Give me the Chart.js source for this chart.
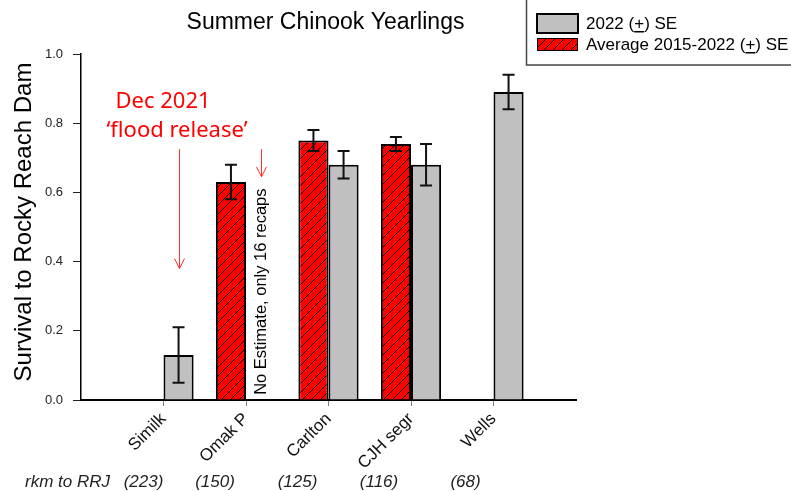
<!DOCTYPE html>
<html>
<head>
<meta charset="utf-8">
<script src="https://cdn.jsdelivr.net/npm/chart.js@4.4.1/dist/chart.umd.min.js"></script>
<style>
  html, body { margin: 0; padding: 0; background: #fff; }
  #wrap { position: relative; width: 791px; height: 491px; }
</style>
</head>
<body>
<div id="wrap"><canvas id="chart" width="791" height="491"></canvas></div>
<script>
// ---- data ----
const sites    = ['', 'Similk', 'Omak P', 'Carlton', 'CJH segr', 'Wells', ''];
const rkm      = ['(223)', '(150)', '(125)', '(116)', '(68)'];
const avgSurv  = [null, null, 0.63, 0.75, 0.74, null, null];
const avgSE    = [null, null, 0.05, 0.03, 0.02, null, null];
const surv2022 = [null, 0.13, null, 0.68, 0.68, 0.89, null];
const se2022   = [null, 0.08, null, 0.04, 0.06, 0.05, null];
const yTicks   = [0, 0.2, 0.4, 0.6, 0.8, 1.0];

const FONT = "'Liberation Sans', Arial, sans-serif";
Chart.defaults.font.family = FONT;

const canvas = document.getElementById('chart');
const ctx0 = canvas.getContext('2d');

// red fill with black diagonal hatch
function makeHatch() {
  const n = 9;
  const c = document.createElement('canvas');
  c.width = n; c.height = n;
  const g = c.getContext('2d');
  g.fillStyle = '#ff0000';
  g.fillRect(0, 0, n, n);
  g.strokeStyle = '#000';
  g.lineWidth = 1;
  g.beginPath();
  g.moveTo(0, n); g.lineTo(n, 0);
  g.moveTo(-1, 1); g.lineTo(1, -1);
  g.moveTo(n - 1, n + 1); g.lineTo(n + 1, n - 1);
  g.stroke();
  return ctx0.createPattern(c, 'repeat');
}
const hatch = makeHatch();

function errBars(chart, di, vals, ses) {
  const { ctx, scales: { y } } = chart;
  const meta = chart.getDatasetMeta(di);
  vals.forEach((v, i) => {
    if (v == null) return;
    const bx = meta.data[i].x;
    const hi = y.getPixelForValue(v + ses[i]);
    const lo = y.getPixelForValue(v - ses[i]);
    ctx.save();
    ctx.strokeStyle = '#111';
    ctx.lineWidth = 2;
    ctx.beginPath();
    ctx.moveTo(bx, hi); ctx.lineTo(bx, lo);
    ctx.moveTo(bx - 6, hi); ctx.lineTo(bx + 6, hi);
    ctx.moveTo(bx - 6, lo); ctx.lineTo(bx + 6, lo);
    ctx.stroke();
    ctx.restore();
  });
}

function arrow(ctx, x, y1, y2) {
  ctx.beginPath();
  ctx.moveTo(x, y1); ctx.lineTo(x, y2);
  ctx.moveTo(x - 5, y2 - 10); ctx.lineTo(x, y2); ctx.lineTo(x + 5, y2 - 10);
  ctx.stroke();
}

// text with an underlined "+" in the middle
function plusText(ctx, x, yb, before, after) {
  ctx.fillText(before, x, yb);
  let w = ctx.measureText(before).width;
  ctx.fillText('+', x + w, yb);
  const pw = ctx.measureText('+').width;
  ctx.fillRect(x + w, yb + 2, pw, 1.5);
  ctx.fillText(after, x + w + pw, yb);
}

const extras = {
  id: 'extras',
  afterDatasetsDraw(chart) {
    const { ctx, chartArea: ca, scales: { x, y } } = chart;
    errBars(chart, 0, avgSurv, avgSE);
    errBars(chart, 1, surv2022, se2022);

    const gray = chart.getDatasetMeta(1);

    // title
    ctx.save();
    ctx.fillStyle = '#000';
    ctx.font = '23px ' + FONT;
    ctx.textAlign = 'center';
    ctx.textBaseline = 'alphabetic';
    ctx.fillText('Summer Chinook Yearlings', (ca.left + ca.right) / 2 - 3, 29);

    // y title
    ctx.translate(31, (ca.top + ca.bottom) / 2 - 5);
    ctx.rotate(-Math.PI / 2);
    ctx.font = '24px ' + FONT;
    ctx.fillText('Survival to Rocky Reach Dam', 0, 0);
    ctx.restore();

    // flood release note + arrows
    ctx.save();
    ctx.fillStyle = '#ff0000';
    ctx.font = "22px 'Noto Sans', " + FONT;
    ctx.textAlign = 'left';
    const sx = x.getPixelForValue(1);
    ctx.fillText('Dec 2021', sx - 48, 108);
    ctx.fillText('\u2018flood release\u2019', sx - 57, 137);
    ctx.strokeStyle = '#ff3030';
    ctx.lineWidth = 1;
    arrow(ctx, Math.round(gray.data[1].x) + 0.5, y.getPixelForValue(0.725), y.getPixelForValue(0.38));
    arrow(ctx, Math.round(gray.data[2].x) + 0.5, y.getPixelForValue(0.725), y.getPixelForValue(0.645));
    ctx.restore();

    // no estimate note
    ctx.save();
    ctx.fillStyle = '#000';
    ctx.font = '16.5px ' + FONT;
    ctx.translate(gray.data[2].x, y.getPixelForValue(0.015));
    ctx.rotate(-Math.PI / 2);
    ctx.textAlign = 'left';
    ctx.textBaseline = 'middle';
    ctx.fillText('No Estimate, only 16 recaps', 0, 0);
    ctx.restore();

    // rkm row
    ctx.save();
    ctx.fillStyle = '#222';
    ctx.font = 'italic 17px ' + FONT;
    ctx.textAlign = 'left';
    ctx.fillText('rkm to RRJ', 25, 487);
    ctx.textAlign = 'center';
    const shift = [-20, -31, -31, -32, -28];
    rkm.forEach((t, k) => ctx.fillText(t, x.getPixelForValue(k + 1) + shift[k], 487));
    ctx.restore();

    // legend
    ctx.save();
    ctx.strokeStyle = '#444';
    ctx.lineWidth = 1.5;
    ctx.strokeRect(526.5, -1, 300, 66);
    ctx.fillStyle = '#c0c0c0';
    ctx.fillRect(537, 14, 41, 19);
    ctx.strokeStyle = '#000';
    ctx.lineWidth = 2;
    ctx.strokeRect(537, 14, 41, 19);
    ctx.fillStyle = hatch;
    ctx.fillRect(537, 38, 41, 13);
    ctx.lineWidth = 1;
    ctx.strokeRect(537.5, 38.5, 40, 12);
    ctx.fillStyle = '#000';
    ctx.font = '17px ' + FONT;
    ctx.textBaseline = 'alphabetic';
    plusText(ctx, 586, 29, '2022 (', ') SE');
    plusText(ctx, 586, 50, 'Average 2015-2022 (', ') SE');
    ctx.restore();
  }
};

new Chart(canvas, {
  type: 'bar',
  data: {
    labels: sites,
    datasets: [
      {
        label: 'Average 2015-2022 (+) SE',
        data: avgSurv,
        backgroundColor: hatch,
        borderColor: '#000',
        borderWidth: 2,
        categoryPercentage: 0.73,
        barPercentage: 1.0
      },
      {
        label: '2022 (+) SE',
        data: surv2022,
        backgroundColor: '#c0c0c0',
        borderColor: '#000',
        borderWidth: 2,
        categoryPercentage: 0.73,
        barPercentage: 1.0
      }
    ]
  },
  options: {
    responsive: false,
    animation: false,
    devicePixelRatio: 1,
    layout: { padding: { left: 0, right: 215, top: 54, bottom: 0 } },
    plugins: {
      legend: { display: false },
      title: { display: false },
      tooltip: { enabled: false }
    },
    scales: {
      x: {
        offset: false,
        grid: {
          offset: false,
          drawOnChartArea: false,
          tickLength: 6,
          color: c => (c.index === 0 || c.index === sites.length - 1) ? 'rgba(0,0,0,0)' : '#808080'
        },
        border: { color: '#000', width: 2 },
        ticks: {
          autoSkip: false,
          maxRotation: 45,
          minRotation: 45,
          padding: 3,
          color: '#111',
          font: { size: 17 }
        },
        afterFit: s => { s.height = 91; }
      },
      y: {
        min: 0,
        max: 1,
        afterBuildTicks: s => { s.ticks = yTicks.map(v => ({ value: v })); },
        grid: { drawOnChartArea: false, tickLength: 8, color: '#222' },
        border: { color: '#000', width: 1.5 },
        ticks: {
          padding: 10,
          color: '#222',
          font: { size: 13 },
          callback: v => v.toFixed(1)
        },
        afterFit: s => { s.width = 81; }
      }
    }
  },
  plugins: [extras]
});
</script>
</body>
</html>
